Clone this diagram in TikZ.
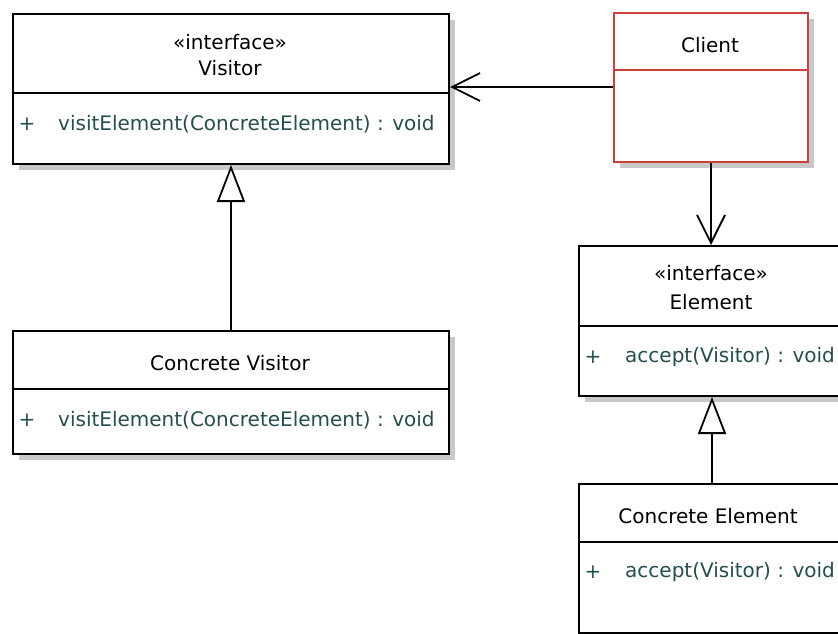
\documentclass[tikz,border=0pt]{standalone}
\usepackage{fontspec}
\setmainfont{DejaVu Sans}
\usetikzlibrary{arrows.meta,calc,shadows}
\definecolor{methodc}{RGB}{38,78,78}
\definecolor{clientred}{RGB}{205,62,62}
\definecolor{shadowc}{RGB}{200,200,200}
\tikzset{
  umlbox/.style={draw=black, line width=2pt, fill=white, rectangle, anchor=north west, inner sep=0pt,
    drop shadow={shadow xshift=6pt, shadow yshift=-6pt, fill=shadowc, opacity=1}},
  clientbox/.style={umlbox, draw=clientred},
  divider/.style={line width=2pt, draw=black},
  cdivider/.style={line width=2pt, draw=clientred},
  title/.style={inner sep=0pt, text=black},
  meth/.style={inner sep=0pt, text=methodc, anchor=west},
  plus/.style={inner sep=0pt, text=methodc},
  assoc/.style={line width=1.8pt, -{Straight Barb[length=28pt,width=28pt,line width=1.8pt]}},
  gen/.style={line width=1.8pt, -{Triangle[length=37pt,width=28pt,fill=white,line width=1.8pt]}}
}
\begin{document}
\begin{tikzpicture}[x=1pt,y=-1pt,font=\fontsize{20}{24}\selectfont]
\clip (0,0) rectangle (838,634);
\fill[white] (0,0) rectangle (838,634);

% Visitor
\node[umlbox, minimum width=436pt, minimum height=150pt] (visitor) at (12,13) {};
\draw[divider] ($(visitor.north west)+(0,80)$) -- ($(visitor.north east)+(0,80)$);
\node[title] (vst) at (230,42) {«interface»};
\node[title] (vname) at (230,68) {Visitor};
\node[plus] (vplus) at (27,124) {+};
\node[meth] (vm) at (58,124) {visitElement(ConcreteElement) : void};

% Concrete Visitor
\node[umlbox, minimum width=436pt, minimum height=123pt] (cv) at (12,330) {};
\draw[divider] ($(cv.north west)+(0,59)$) -- ($(cv.north east)+(0,59)$);
\node[title] (cvname) at (230,363) {Concrete Visitor};
\node[plus] (cvplus) at (27,420) {+};
\node[meth] (cvm) at (58,420) {visitElement(ConcreteElement) : void};

% Client
\node[clientbox, minimum width=194pt, minimum height=149pt] (client) at (613,12) {};
\draw[cdivider] ($(client.north west)+(0,58)$) -- ($(client.north east)+(0,58)$);
\node[title] (cname) at (710,45) {Client};

% Element
\node[umlbox, minimum width=266pt, minimum height=150pt] (element) at (578,245) {};
\draw[divider] ($(element.north west)+(0,81)$) -- ($(element.north east)+(0,81)$);
\node[title] (est) at (711,273) {«interface»};
\node[title] (ename) at (711,302) {Element};
\node[plus] (eplus) at (593,357) {+};
\node[meth] (em) at (625,357) {accept(Visitor) : void};

% Concrete Element
\node[umlbox, minimum width=266pt, minimum height=149pt] (ce) at (578,483) {};
\draw[divider] ($(ce.north west)+(0,59)$) -- ($(ce.north east)+(0,59)$);
\node[title] (cename) at (708,516) {Concrete Element};
\node[plus] (ceplus) at (593,572) {+};
\node[meth] (cem) at (625,572) {accept(Visitor) : void};

% connectors
\coordinate (ca) at ($(client.north west)+(0,75)$);
\draw[assoc] (ca) -- (ca -| visitor.east);
\draw[assoc] (client.south) -- (client.south |- element.north);
\draw[gen] (cv.north) -- (visitor.south);
\draw[gen] (ce.north) -- (element.south);
\end{tikzpicture}
\end{document}
